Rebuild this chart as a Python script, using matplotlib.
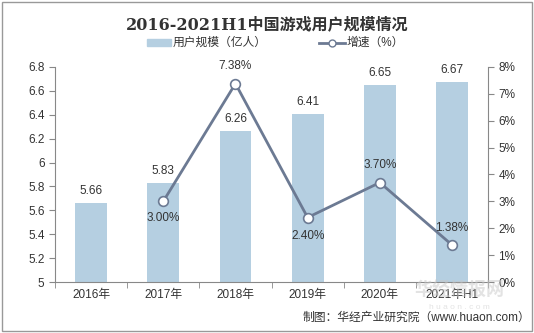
import numpy as np
import matplotlib.pyplot as plt
from matplotlib.patches import Rectangle
from matplotlib.ticker import FuncFormatter

plt.rcParams['font.family'] = ['Liberation Sans', 'Noto Sans CJK SC', 'DejaVu Sans']

# Data
years = ['2016年', '2017年', '2018年', '2019年', '2020年', '2021年H1']
users = [5.66, 5.83, 6.26, 6.41, 6.65, 6.67]      # 亿人
growth = [None, 3.00, 7.38, 2.40, 3.70, 1.38]      # %

bar_color = '#b5cfe1'
line_color = '#6c7a93'
axis_color = '#888888'
text_color = '#333333'

fig = plt.figure(figsize=(5.34, 3.33), dpi=100)
ax = fig.add_axes([0.103, 0.153, 0.811, 0.646])
ax2 = ax.twinx()

x = np.arange(len(years))
ax.bar(x, users, width=0.44, color=bar_color, zorder=1)
ax.set_ylim(5, 6.8)
ax.set_yticks(np.arange(5, 6.81, 0.2))
ax.yaxis.set_major_formatter(FuncFormatter(lambda v, p: f'{v:g}'))
ax.set_xlim(-0.5, len(years) - 0.5)
ax.set_xticks(x)
ax.set_xticklabels(years)
ax.set_xticks(np.arange(-0.5, len(years)), minor=True)
ax.tick_params(axis='x', which='major', length=0, labelsize=8.5, colors=text_color, pad=5)
ax.tick_params(axis='x', which='minor', length=4, color=axis_color)
ax.tick_params(axis='y', labelsize=8.5, colors=text_color, length=4, color=axis_color)
for v, xi in zip(users, x):
    ax.text(xi, v + 0.05, f'{v:.2f}', ha='center', va='bottom', fontsize=8.5, color=text_color)

gx = [xi for xi, g in zip(x, growth) if g is not None]
gy = [g for g in growth if g is not None]
ax2.plot(gx, gy, color=line_color, lw=2, marker='o', ms=7,
         mfc='white', mec=line_color, mew=1.2, zorder=3)
ax2.set_ylim(0, 8)
ax2.set_yticks(range(0, 9))
ax2.yaxis.set_major_formatter(FuncFormatter(lambda v, p: f'{v:.0f}%'))
ax2.tick_params(axis='y', labelsize=8.5, colors=text_color, length=4, color=axis_color)

# growth labels: (dx points, dy points, va)
offsets = {1: (0, -8, 'top'), 2: (0, 8, 'bottom'), 3: (0, -9, 'top'),
           4: (0, 8, 'bottom'), 5: (0, 8, 'bottom')}
for xi, g in zip(gx, gy):
    dx, dy, va = offsets[xi]
    ax2.annotate(f'{g:.2f}%', (xi, g), xytext=(dx, dy), textcoords='offset points',
                 ha='center', va=va, fontsize=8.5, color=text_color)

for a in (ax, ax2):
    a.spines['top'].set_visible(False)
    for s in ('left', 'right', 'bottom'):
        a.spines[s].set_color(axis_color)
        a.spines[s].set_linewidth(0.8)
ax.spines['right'].set_visible(False)
ax2.spines['left'].set_visible(False)
ax2.spines['bottom'].set_visible(False)

fig.text(0.5, 0.925, '2016-2021H1中国游戏用户规模情况', ha='center', va='center',
         fontsize=11.5, fontweight='bold', color=text_color,
         family=['DejaVu Serif', 'Noto Sans CJK SC'])

# legend
ly = 0.872
fig.patches.append(Rectangle((0.275, ly - 0.011), 0.046, 0.022, transform=fig.transFigure,
                             color=bar_color))
fig.text(0.324, ly, '用户规模（亿人）', ha='left', va='center', fontsize=8.5, color=text_color)
fig.lines.append(plt.Line2D([0.597, 0.646], [ly, ly], transform=fig.transFigure,
                            color=line_color, lw=2))
fig.lines.append(plt.Line2D([0.621], [ly], transform=fig.transFigure, color=line_color,
                            marker='o', ms=5, mfc='white', mec=line_color, mew=1))
fig.text(0.649, ly, '增速（%）', ha='left', va='center', fontsize=8.5, color=text_color)

# watermark
fig.text(0.86, 0.128, '华经情报网', ha='center', va='center', fontsize=13,
         fontweight='bold', color='#c8c8c8', alpha=0.5)
fig.text(0.86, 0.078, 'h u a o n . c o m', ha='center', va='center', fontsize=6,
         color='#d0d0d0', alpha=0.6)

fig.text(0.993, 0.045, '制图：华经产业研究院（www.huaon.com）', ha='right', va='center',
         fontsize=8.5, color=text_color)

fig.patches.append(Rectangle((0.004, 0.006), 0.992, 0.988, transform=fig.transFigure,
                             fill=False, edgecolor='#999999', lw=1))

fig.savefig('out.png', dpi=100)
